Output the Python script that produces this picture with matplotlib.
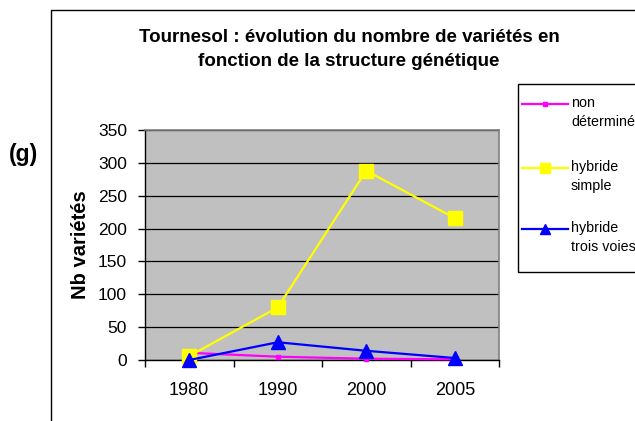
import numpy as np
import matplotlib.pyplot as plt
from matplotlib.lines import Line2D
from matplotlib.patches import Rectangle

plt.rcParams['font.family'] = ['Liberation Sans', 'DejaVu Sans']

# Data

years = ['1980', '1990', '2000', '2005']
non_determine = [11, 5, 2, 1]
hybride_simple = [6, 80, 288, 216]
hybride_trois_voies = [0, 27, 14, 3]

series_labels = ['non\ndéterminé', 'hybride\nsimple', 'hybride\ntrois voies']
series_values = [non_determine, hybride_simple, hybride_trois_voies]
colors = ['#FF00FF', '#FFFF00', '#0000FF']
markers = ['s', 's', '^']
msizes = [3.5, 10.5, 10]

yticks = np.arange(0, 351, 50)

# Canvas

W, H = 635, 421
fig = plt.figure(figsize=(W/100, H/100), dpi=100)
fig.patch.set_facecolor('white')

def fx(px):
    return px / W

def fy(py):
    return 1 - py / H

ax = fig.add_axes([fx(145), fy(360), fx(499) - fx(145), fy(130) - fy(360)])
ax.set_facecolor('#C0C0C0')

x = np.arange(len(years))

# Plots

for vals, c, m, ms in zip(series_values, colors, markers, msizes):
    ax.plot(x, vals, color=c, lw=1.6, marker=m, markersize=ms,
            markerfacecolor=c, markeredgecolor=c, clip_on=False, zorder=3)

# Axes

ax.set_xlim(-0.5, len(years) - 0.5)
ax.set_ylim(0, 350)
ax.set_yticks(yticks)
ax.set_yticklabels([str(v) for v in yticks])
ax.yaxis.grid(True, color='black', lw=0.9)
ax.set_axisbelow(True)

ax.set_xticks(np.arange(-0.5, len(years), 1.0))
ax.set_xticklabels([])
ax.set_xticks(x, minor=True)
ax.set_xticklabels(years, minor=True)
ax.tick_params(axis='x', which='major', direction='out', length=5, width=1, color='black')
ax.tick_params(axis='x', which='minor', length=0, pad=16, labelsize=13)
ax.tick_params(axis='y', direction='out', length=5, width=1, color='black', pad=8, labelsize=12.5)

for side in ['top', 'right']:
    ax.spines[side].set_color('#808080')
    ax.spines[side].set_linewidth(1.2)
for side in ['left', 'bottom']:
    ax.spines[side].set_color('black')
    ax.spines[side].set_linewidth(1)

# Labels

fig.text(fx(80), fy(245), 'Nb variétés', rotation=90, ha='center', va='center',
         fontsize=14.5, fontweight='bold')
fig.text(fx(349), fy(49.5), 'Tournesol : évolution du nombre de variétés en\nfonction de la structure génétique',
         ha='center', va='center', fontsize=13.5, fontweight='bold', linespacing=1.55)
fig.text(fx(23), fy(154), '(g)', ha='center', va='center', fontsize=16.5, fontweight='bold')

# Chart border

fig.add_artist(Rectangle((fx(51), fy(440)), fx(700) - fx(51), fy(10) - fy(440),
                         transform=fig.transFigure, fill=False, edgecolor='black', lw=1))

# Legend (drawn by hand)

fig.add_artist(Rectangle((fx(518), fy(272)), fx(700) - fx(518), fy(84) - fy(272),
                         transform=fig.transFigure, fill=False, edgecolor='black', lw=1))
leg_y = [104, 168, 229]
for lab, c, m, ms, yy in zip(series_labels, colors, markers, msizes, leg_y):
    fig.add_artist(Line2D([fx(522), fx(568)], [fy(yy), fy(yy)], transform=fig.transFigure,
                          color=c, lw=1.6))
    fig.add_artist(Line2D([fx(545)], [fy(yy)], transform=fig.transFigure, color=c,
                          marker=m, markersize=ms * 0.75, markerfacecolor=c, markeredgecolor=c))
    fig.text(fx(571), fy(yy - 8), lab, ha='left', va='top', fontsize=10.3, linespacing=1.45)

fig.savefig('out.png', dpi=100)
